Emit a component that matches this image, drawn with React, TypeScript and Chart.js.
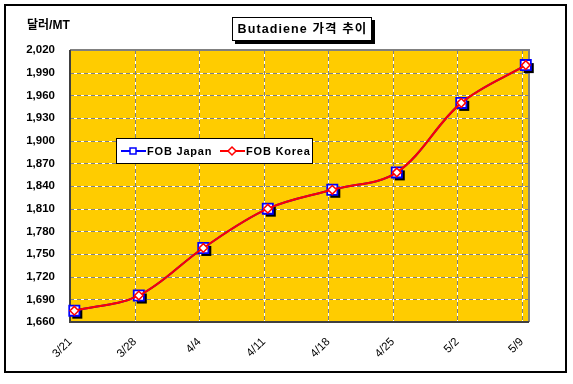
import { useEffect, useRef } from "react";
import { Chart, registerables } from "chart.js";

Chart.register(...registerables);

const categories = ["3/21", "3/28", "4/4", "4/11", "4/18", "4/25", "5/2", "5/9"];
const fobJapan = [1675, 1695, 1758, 1810, 1835, 1858, 1950, 2000];
const fobKorea = [1675, 1695, 1758, 1810, 1835, 1858, 1950, 2000];
const seriesNames = ["FOB Japan", "FOB Korea"];
const yMin = 1660;
const yMax = 2020;
const yStep = 30;
const chartTitle = "Butadiene 가격 추이";
const yAxisTitle = "달러/MT";

const BLUE = "#0000FF";
const RED = "#FF0000";
const PLOT_BG = "#FFCC00";
const FONT = '"Liberation Sans", Arial, "Noto Sans CJK KR", sans-serif';
const GRID_SHIFT = 0.062;

function drawSquare(ctx: CanvasRenderingContext2D, x: number, y: number, s: number, stroke: string) {
  ctx.fillStyle = "#FFFFFF";
  ctx.fillRect(x - s / 2, y - s / 2, s, s);
  ctx.strokeStyle = stroke;
  ctx.lineWidth = 1.5;
  ctx.strokeRect(x - s / 2, y - s / 2, s, s);
}

function drawDiamond(ctx: CanvasRenderingContext2D, x: number, y: number, r: number, stroke: string) {
  ctx.beginPath();
  ctx.moveTo(x, y - r);
  ctx.lineTo(x + r, y);
  ctx.lineTo(x, y + r);
  ctx.lineTo(x - r, y);
  ctx.closePath();
  ctx.fillStyle = "#FFFFFF";
  ctx.fill();
  ctx.strokeStyle = stroke;
  ctx.lineWidth = 1.5;
  ctx.stroke();
}

const plotPlugin = {
  id: "plotDecor",
  beforeDatasetsDraw(chart: any) {
    const { ctx, chartArea } = chart;
    const { left, top, right, bottom } = chartArea;
    const xs = chart.scales.x;
    const ys = chart.scales.y;
    ctx.save();
    ctx.fillStyle = PLOT_BG;
    ctx.fillRect(left, top, right - left, bottom - top);

    const line = (x1: number, y1: number, x2: number, y2: number) => {
      ctx.setLineDash([]);
      ctx.strokeStyle = "#FFFFFF";
      ctx.beginPath();
      ctx.moveTo(x1, y1);
      ctx.lineTo(x2, y2);
      ctx.stroke();
      ctx.setLineDash([4, 3]);
      ctx.strokeStyle = "#808080";
      ctx.beginPath();
      ctx.moveTo(x1, y1);
      ctx.lineTo(x2, y2);
      ctx.stroke();
    };
    ctx.lineWidth = 1;
    for (let v = yMin + yStep; v < yMax; v += yStep) {
      const py = Math.round(ys.getPixelForValue(v)) + 0.5;
      line(left, py, right, py);
    }
    for (let i = 1; i < categories.length; i++) {
      const px = Math.round(xs.getPixelForValue(i - GRID_SHIFT)) + 0.5;
      line(px, top, px, bottom);
    }
    ctx.setLineDash([]);
    // plot border
    ctx.lineWidth = 2;
    ctx.strokeStyle = "#808080";
    ctx.beginPath();
    ctx.moveTo(left, top);
    ctx.lineTo(right, top);
    ctx.lineTo(right, bottom);
    ctx.stroke();
    ctx.strokeStyle = "#404040";
    ctx.beginPath();
    ctx.moveTo(left, top);
    ctx.lineTo(left, bottom);
    ctx.lineTo(right, bottom);
    ctx.stroke();

    // marker shadows
    const meta = chart.getDatasetMeta(0);
    ctx.fillStyle = "#000000";
    meta.data.forEach((pt: any) => {
      ctx.fillRect(pt.x - 5 + 3, pt.y - 5 + 3, 10, 10);
    });
    ctx.restore();
  },
  afterDraw(chart: any) {
    const { ctx } = chart;
    ctx.save();
    // outer border
    ctx.strokeStyle = "#000000";
    ctx.lineWidth = 2;
    ctx.strokeRect(5, 5, 561, 367);

    // y axis title
    ctx.fillStyle = "#000000";
    ctx.font = `bold 12px ${FONT}`;
    ctx.textAlign = "left";
    ctx.textBaseline = "middle";
    ctx.fillText(yAxisTitle, 27, 26);

    // chart title box
    ctx.fillStyle = "#000000";
    ctx.fillRect(235, 20, 140, 24);
    ctx.fillStyle = "#FFFFFF";
    ctx.fillRect(232, 17, 140, 24);
    ctx.strokeStyle = "#000000";
    ctx.lineWidth = 1;
    ctx.strokeRect(232.5, 17.5, 139, 23);
    ctx.fillStyle = "#000000";
    ctx.font = `bold 12.5px ${FONT}`;
    (ctx as any).letterSpacing = "1.1px";
    ctx.textAlign = "center";
    ctx.fillText(chartTitle, 302.5, 30);

    // legend
    (ctx as any).letterSpacing = "0.8px";
    ctx.fillStyle = "#FFFFFF";
    ctx.fillRect(116, 138, 197, 26);
    ctx.strokeStyle = "#000000";
    ctx.lineWidth = 1;
    ctx.strokeRect(116.5, 138.5, 196, 25);
    const ly = 151;
    const items = [
      { x: 121, color: BLUE, name: seriesNames[0], square: true },
      { x: 220, color: RED, name: seriesNames[1], square: false },
    ];
    items.forEach((it) => {
      ctx.strokeStyle = it.color;
      ctx.lineWidth = 2;
      ctx.beginPath();
      ctx.moveTo(it.x, ly);
      ctx.lineTo(it.x + 25, ly);
      ctx.stroke();
      if (it.square) drawSquare(ctx, it.x + 12, ly, 6, it.color);
      else drawDiamond(ctx, it.x + 12, ly, 4, it.color);
      ctx.fillStyle = "#000000";
      ctx.font = `bold 11px ${FONT}`;
      ctx.textAlign = "left";
      ctx.textBaseline = "middle";
      ctx.fillText(it.name, it.x + 26, ly + 0.5);
    });
    ctx.restore();
  },
};

export default function App() {
  const canvasRef = useRef<HTMLCanvasElement | null>(null);

  useEffect(() => {
    const canvas = canvasRef.current;
    if (!canvas) return;
    const chart = new Chart(canvas, {
      type: "line",
      data: {
        datasets: [
          {
            label: seriesNames[0],
            data: fobJapan.map((v, i) => ({ x: i, y: v })),
            borderColor: BLUE,
            borderWidth: 2,
            backgroundColor: "#FFFFFF",
            pointStyle: "rect",
            pointRadius: 7.2,
            pointBorderWidth: 1.8,
            pointBorderColor: BLUE,
            pointBackgroundColor: "#FFFFFF",
            tension: 0.35,
            clip: false as any,
            order: 1,
          },
          {
            label: seriesNames[1],
            data: fobKorea.map((v, i) => ({ x: i, y: v })),
            borderColor: RED,
            borderWidth: 2,
            backgroundColor: "#FFFFFF",
            pointStyle: "rectRot",
            pointRadius: 4.3,
            pointBorderWidth: 1.5,
            pointBorderColor: RED,
            pointBackgroundColor: "#FFFFFF",
            tension: 0.35,
            clip: false as any,
            order: 0,
          },
        ],
      },
      options: {
        animation: false,
        responsive: false,
        layout: { padding: { left: 0, top: 50, right: 44, bottom: 12 } },
        plugins: {
          legend: { display: false },
          title: { display: false },
          tooltip: { enabled: false },
        },
        scales: {
          x: {
            type: "linear",
            min: -0.067,
            max: 7.05,
            grid: { display: false, drawTicks: false },
            border: { display: false },
            afterBuildTicks: (scale: any) => {
              scale.ticks = categories.map((_, i) => ({ value: i - GRID_SHIFT }));
            },
            afterFit: (scale: any) => {
              scale.height = 50;
            },
            ticks: {
              autoSkip: false,
              minRotation: 45,
              maxRotation: 45,
              padding: 13,
              color: "#000000",
              font: { family: FONT, size: 11.5 },
              callback: (_v: any, idx: number) => categories[idx],
            },
          },
          y: {
            min: yMin,
            max: yMax,
            grid: { display: false, drawTicks: false },
            border: { display: false },
            afterFit: (scale: any) => {
              scale.width = 70;
            },
            ticks: {
              stepSize: yStep,
              padding: 15,
              color: "#000000",
              font: { family: FONT, size: 11.5, weight: "bold" },
              callback: (v: any) => Number(v).toLocaleString("en-US"),
            },
          },
        },
      },
      plugins: [plotPlugin],
    });
    return () => chart.destroy();
  }, []);

  return (
    <div style={{ position: "fixed", left: 0, top: 0, width: 573, height: 384, background: "#FFFFFF" }}>
      <canvas ref={canvasRef} width={573} height={384} />
    </div>
  );
}
